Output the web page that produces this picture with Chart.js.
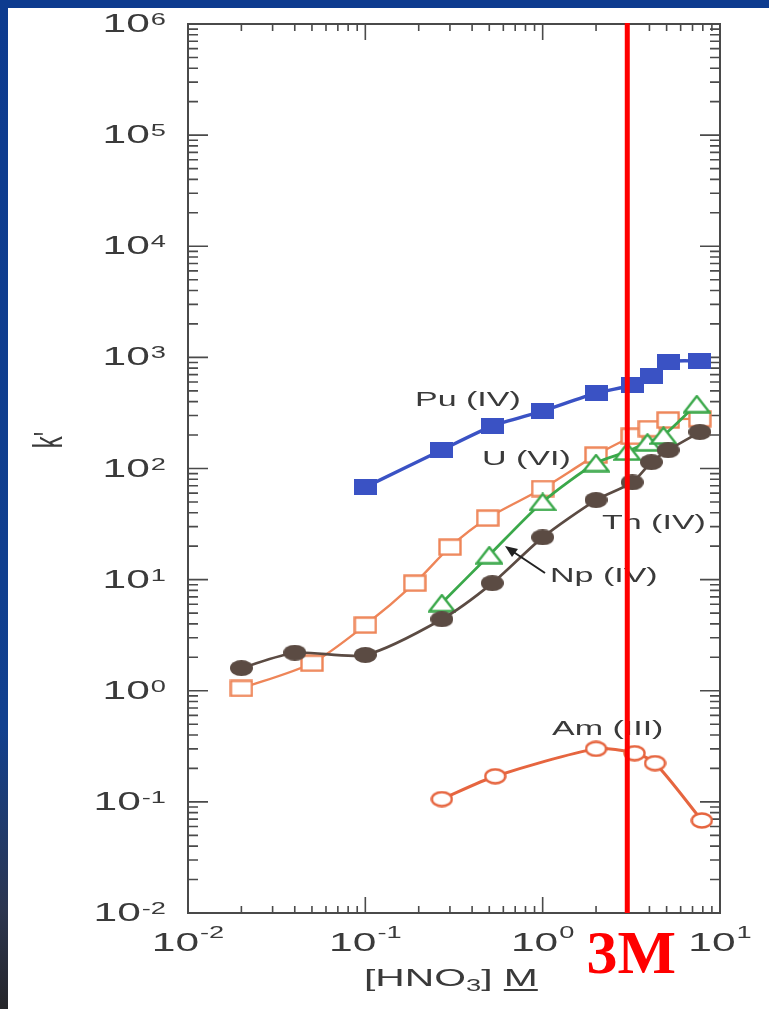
<!DOCTYPE html>
<html>
<head>
<meta charset="utf-8">
<script src="https://cdn.jsdelivr.net/npm/chart.js@4.4.1/dist/chart.umd.min.js"></script>
<style>
    html, body { margin: 0; padding: 0; }
    body {
        width: 769px;
        height: 1009px;
        overflow: hidden;
        background: #fff;
        position: relative;
    }
    .bar-top {
        position: absolute; left: 0; top: 0; width: 769px; height: 8px;
        background: #0d3b8f;
    }
    .bar-left {
        position: absolute; left: 0; top: 0; width: 8px; height: 1009px;
        background: linear-gradient(#0d3b8f 0%, #11408f 72%, #2c3650 90%, #26262a 100%);
    }
    #chart { position: absolute; left: 0; top: 0; }
</style>
</head>
<body>
<div class="bar-top"></div>
<div class="bar-left"></div>
<canvas id="chart" width="769" height="1009"></canvas>

<script>
// ================= DATA =================
// [HNO3] (M) and k'
const puX = [0.1, 0.27, 0.52, 1.0, 2.0, 3.2, 4.1, 5.1, 7.7];
const puK = [68, 147, 241, 329, 477, 563, 679, 907, 929];

const uX = [0.02, 0.05, 0.1, 0.19, 0.3, 0.49, 1.0, 2.0, 3.2, 4.0, 5.1, 7.7];
const uK = [1.05, 1.77, 3.9, 9.3, 19.6, 35.8, 66, 132, 195, 228, 273, 280];

const npX = [0.27, 0.5, 1.0, 2.0, 3.0, 3.9, 4.8, 7.4];
const npK = [6.15, 16.6, 50, 112, 142, 172, 198, 380];

const thX = [0.02, 0.04, 0.1, 0.27, 0.52, 1.0, 2.0, 3.2, 4.1, 5.1, 7.7];
const thK = [1.6, 2.2, 2.1, 4.4, 9.3, 24, 52, 75, 114, 146, 213];

const amX = [0.27, 0.54, 2.0, 3.3, 4.3, 7.9];
const amK = [0.106, 0.17, 0.30, 0.274, 0.223, 0.068];

const xTicks = [0.01, 0.1, 1, 10];
const yTicks = [1e-2, 1e-1, 1e0, 1e1, 1e2, 1e3, 1e4, 1e5, 1e6];

const seriesLabels = ["Pu (IV)", "U (VI)", "Np (IV)", "Th (IV)", "Am (III)"];
const markLine = 3;         // 3 M nitric acid
const markText = "3M";

// ================= STYLE =================
const STRETCH = 1.7;        // the original figure is stretched sideways
const TEXT = "#3a3a3a";
const AXIS = "#4a4a4a";

function pts(xs, ys) {
    return xs.map((x, i) => ({ x: x, y: ys[i] }));
}

// stretched markers, drawn once into small canvases
function marker(w, h, draw) {
    const c = document.createElement("canvas");
    c.width = w;
    c.height = h;
    draw(c.getContext("2d"), w, h);
    return c;
}

const puMark = marker(23, 16, (g, w, h) => {
    g.fillStyle = "#3a52c4";
    g.fillRect(0, 0, w, h);
});
const uMark = marker(24, 18, (g, w, h) => {
    g.fillStyle = "#fff";
    g.fillRect(1.5, 1.5, w - 3, h - 3);
    g.strokeStyle = "#ee8558";
    g.lineWidth = 2.4;
    g.strokeRect(1.5, 1.5, w - 3, h - 3);
});
const npMark = marker(28, 19, (g, w, h) => {
    g.beginPath();
    g.moveTo(w / 2, 1.5);
    g.lineTo(w - 1.5, h - 1.5);
    g.lineTo(1.5, h - 1.5);
    g.closePath();
    g.fillStyle = "#fff";
    g.fill();
    g.strokeStyle = "#3aa84a";
    g.lineWidth = 2.4;
    g.stroke();
});
const thMark = marker(23, 16, (g, w, h) => {
    g.beginPath();
    g.ellipse(w / 2, h / 2, w / 2, h / 2, 0, 0, Math.PI * 2);
    g.fillStyle = "#5b4b43";
    g.fill();
});
const amMark = marker(23, 17, (g, w, h) => {
    g.beginPath();
    g.ellipse(w / 2, h / 2, w / 2 - 1.5, h / 2 - 1.5, 0, 0, Math.PI * 2);
    g.fillStyle = "#fff";
    g.fill();
    g.strokeStyle = "#e6653f";
    g.lineWidth = 2.4;
    g.stroke();
});

// ================= TEXT HELPERS =================
function wideText(ctx, str, x, y, font, align) {
    ctx.save();
    ctx.font = font;
    const w = ctx.measureText(str).width * STRETCH;
    let x0 = x;
    if (align === "center") x0 = x - w / 2;
    if (align === "right") x0 = x - w;
    ctx.translate(x0, y);
    ctx.scale(STRETCH, 1);
    ctx.textAlign = "left";
    ctx.textBaseline = "alphabetic";
    ctx.fillText(str, 0, 0);
    ctx.restore();
    return w;
}

function textWidth(ctx, str, font) {
    ctx.save();
    ctx.font = font;
    const w = ctx.measureText(str).width * STRETCH;
    ctx.restore();
    return w;
}

const BASE_FONT = "25px 'Liberation Sans', Arial, sans-serif";
const SUP_FONT = "16px 'Liberation Sans', Arial, sans-serif";
const LABEL_FONT = "20px 'Liberation Sans', Arial, sans-serif";
const TITLE_FONT = "24px 'Liberation Sans', Arial, sans-serif";

function power(v) {
    return String(Math.round(Math.log10(v)));
}

// ================= FRAME / TICKS / LABELS =================
const framePlugin = {
    id: "frame",
    beforeDatasetsDraw(chart) {
        const { ctx, chartArea: a, scales: { x, y } } = chart;
        ctx.save();
        ctx.strokeStyle = AXIS;
        ctx.lineWidth = 2;
        ctx.strokeRect(a.left, a.top, a.right - a.left, a.bottom - a.top);

        ctx.lineWidth = 1.6;
        ctx.beginPath();
        // y ticks, left and right, pointing inward
        for (let n = -2; n < 6; n++) {
            for (let m = 1; m <= 9; m++) {
                const py = y.getPixelForValue(m * Math.pow(10, n));
                const len = m === 1 ? 20 : 10;
                ctx.moveTo(a.left, py); ctx.lineTo(a.left + len, py);
                ctx.moveTo(a.right, py); ctx.lineTo(a.right - len, py);
            }
        }
        // x ticks, bottom and top
        for (let n = -2; n < 1; n++) {
            for (let m = 1; m <= 9; m++) {
                const px = x.getPixelForValue(m * Math.pow(10, n));
                const len = m === 1 ? 16 : 7;
                ctx.moveTo(px, a.bottom); ctx.lineTo(px, a.bottom - len);
                ctx.moveTo(px, a.top); ctx.lineTo(px, a.top + len);
            }
        }
        ctx.stroke();

        ctx.fillStyle = TEXT;
        // y tick labels
        yTicks.forEach(v => {
            const py = y.getPixelForValue(v);
            const sup = power(v);
            const right = a.left - 22;
            const ws = textWidth(ctx, sup, SUP_FONT);
            wideText(ctx, sup, right, py + 1, SUP_FONT, "right");
            wideText(ctx, "10", right - ws - 1, py + 8, BASE_FONT, "right");
        });
        // x tick labels
        xTicks.forEach(v => {
            const px = x.getPixelForValue(v);
            const sup = power(v);
            const w10 = textWidth(ctx, "10", BASE_FONT);
            const ws = textWidth(ctx, sup, SUP_FONT);
            const left = px - (w10 + ws + 1) / 2;
            wideText(ctx, "10", left, a.bottom + 38, BASE_FONT, "left");
            wideText(ctx, sup, left + w10 + 1, a.bottom + 25, SUP_FONT, "left");
        });

        // x title: [HNO3] M
        let tx = 364;
        const ty = a.bottom + 73;
        tx += wideText(ctx, "[HNO", tx, ty, TITLE_FONT, "left");
        tx += wideText(ctx, "3", tx, ty + 5, "16px 'Liberation Sans', Arial, sans-serif", "left");
        tx += wideText(ctx, "] ", tx, ty, TITLE_FONT, "left");
        const mw = wideText(ctx, "M", tx, ty, TITLE_FONT, "left");
        ctx.fillRect(tx, ty + 3, mw, 2);

        // y title: k'
        ctx.save();
        ctx.translate(62, 440);
        ctx.rotate(-Math.PI / 2);
        ctx.scale(1, STRETCH);
        ctx.font = "24px 'Liberation Sans', Arial, sans-serif";
        ctx.textAlign = "center";
        ctx.fillText("k'", 0, 0);
        ctx.restore();

        ctx.restore();
    },
    afterDatasetsDraw(chart) {
        const { ctx, chartArea: a, scales: { x } } = chart;
        ctx.save();
        ctx.fillStyle = TEXT;
        // series labels
        wideText(ctx, seriesLabels[0], 415, 406, LABEL_FONT, "left");
        wideText(ctx, seriesLabels[1], 482, 465, LABEL_FONT, "left");
        wideText(ctx, seriesLabels[2], 550, 582, LABEL_FONT, "left");
        wideText(ctx, seriesLabels[3], 602, 529, LABEL_FONT, "left");
        wideText(ctx, seriesLabels[4], 552, 735, LABEL_FONT, "left");

        // arrow pointing to the Np curve
        ctx.strokeStyle = "#222";
        ctx.fillStyle = "#222";
        ctx.lineWidth = 2;
        ctx.beginPath();
        ctx.moveTo(545, 573);
        ctx.lineTo(512, 551);
        ctx.stroke();
        ctx.beginPath();
        ctx.moveTo(505, 546);
        ctx.lineTo(518, 549);
        ctx.lineTo(512, 557);
        ctx.closePath();
        ctx.fill();

        // 3 M marker line
        const px = x.getPixelForValue(markLine);
        ctx.strokeStyle = "#ff0000";
        ctx.lineWidth = 5;
        ctx.beginPath();
        ctx.moveTo(px, a.top - 1);
        ctx.lineTo(px, a.bottom);
        ctx.stroke();

        ctx.fillStyle = "#ff0000";
        ctx.font = "bold 62px 'Liberation Serif', 'Times New Roman', serif";
        ctx.textAlign = "center";
        ctx.fillText(markText, px + 4, a.bottom + 60);
        ctx.restore();
    }
};

// ================= CHART =================
function series(label, xs, ys, color, width, mark) {
    return {
        label: label,
        data: pts(xs, ys),
        showLine: true,
        borderColor: color,
        borderWidth: width,
        tension: 0.25,
        pointStyle: mark,
        pointRadius: 10,
        clip: false
    };
}

new Chart(document.getElementById("chart"), {
    type: "scatter",
    data: {
        datasets: [
            series(seriesLabels[0], puX, puK, "#3a52c4", 3.4, puMark),
            series(seriesLabels[3], thX, thK, "#5b4b43", 2.6, thMark),
            series(seriesLabels[2], npX, npK, "#3aa84a", 2.8, npMark),
            series(seriesLabels[1], uX, uK, "#ee8558", 2.4, uMark),
            series(seriesLabels[4], amX, amK, "#e6653f", 3, amMark)
        ]
    },
    options: {
        responsive: false,
        animation: false,
        layout: { padding: { left: 188, right: 49, top: 24, bottom: 96 } },
        plugins: { legend: { display: false }, tooltip: { enabled: false } },
        scales: {
            x: { type: "logarithmic", min: 0.01, max: 10, display: false },
            y: { type: "logarithmic", min: 0.01, max: 1e6, display: false }
        }
    },
    plugins: [framePlugin]
});
</script>
</body>
</html>
